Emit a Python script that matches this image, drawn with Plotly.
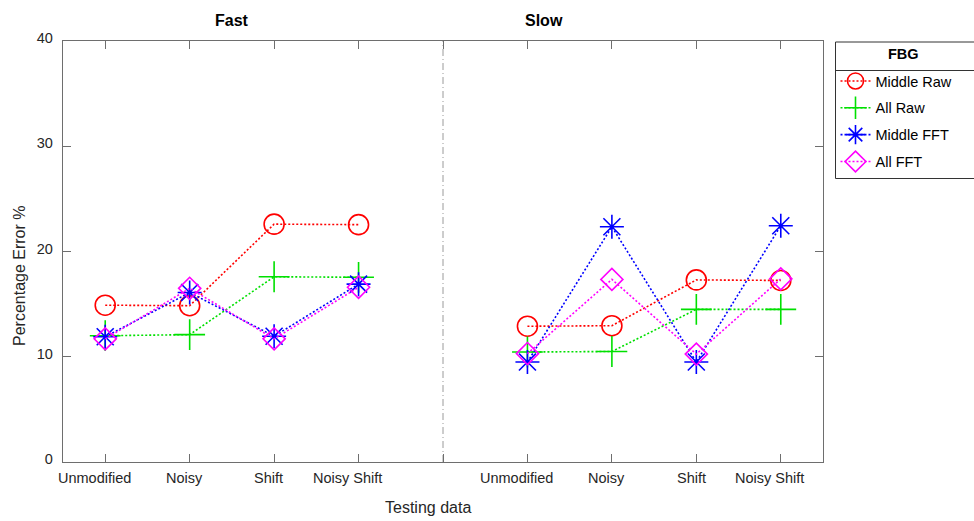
import plotly.graph_objects as go

# Testing conditions and the two speed groups
categories = ["Unmodified", "Noisy", "Shift", "Noisy Shift"]
groups = ["Fast", "Slow"]

# Percentage error per condition (Fast group, then Slow group)
middle_raw_fast = [14.9, 14.85, 22.6, 22.55]
middle_raw_slow = [12.9, 12.95, 17.3, 17.25]
all_raw_fast = [12.0, 12.1, 17.6, 17.55]
all_raw_slow = [10.45, 10.5, 14.5, 14.5]
middle_fft_fast = [11.9, 16.1, 11.95, 16.9]
middle_fft_slow = [9.5, 22.35, 9.5, 22.45]
all_fft_fast = [11.7, 16.5, 11.7, 16.6]
all_fft_slow = [10.3, 17.35, 10.25, 17.4]

y_ticks = [0, 10, 20, 30, 40]

FONT = "Liberation Sans, Arial, sans-serif"
TXT = "#262626"
AX = "#6e6e6e"

n = len(categories)
# x positions: Fast at 1..n, a gap slot, Slow at n+2..2n+1
fast_x = [i + 1 for i in range(n)]
slow_x = [n + 2 + i for i in range(n)]
gap_x = n + 1
all_x = fast_x + [gap_x] + slow_x

series = [
    ("Middle Raw", middle_raw_fast, middle_raw_slow, "#ff0000", "circle-open", 20),
    ("All Raw", all_raw_fast, all_raw_slow, "#00e000", "cross-thin-open", 22),
    ("Middle FFT", middle_fft_fast, middle_fft_slow, "#0000ff", "asterisk-open", 20),
    ("All FFT", all_fft_fast, all_fft_slow, "#ff00ff", "diamond-open", 17),
]

fig = go.Figure()
for name, fast, slow, color, symbol, size in series:
    fig.add_trace(go.Scatter(
        x=all_x,
        y=list(fast) + [None] + list(slow),
        mode="lines+markers",
        name=name,
        legendgroup=name,
        connectgaps=False,
        line=dict(color=color, width=1.6, dash="2px,2px"),
        marker=dict(symbol=symbol, size=size, color=color,
                    line=dict(color=color, width=1.6)),
    ))

# Vertical dash-dot separator between the two groups
fig.add_shape(type="line", xref="x", yref="paper", x0=gap_x, x1=gap_x, y0=0, y1=1,
              line=dict(color="#9a9a9a", width=1, dash="7px,3px,1px,3px"), layer="below")

annotations = []
# Category labels under each tick
for xs in (fast_x, slow_x):
    for xv, lab in zip(xs, categories):
        annotations.append(dict(
            x=xv, y=0, xref="x", yref="paper", text=lab, showarrow=False,
            xanchor="center", yanchor="middle", yshift=-15.5,
            xshift=-1.05 * len(lab),
            font=dict(family=FONT, size=14.5, color=TXT)))

# Group titles
annotations.append(dict(x=2.5, y=1, xref="x", yref="paper", text="<b>Fast</b>",
                        showarrow=False, yanchor="middle", yshift=21,
                        font=dict(family=FONT, size=16, color="#000000")))
annotations.append(dict(x=6.2, y=1, xref="x", yref="paper", text="<b>Slow</b>",
                        showarrow=False, yanchor="middle", yshift=21,
                        font=dict(family=FONT, size=16, color="#000000")))
# Axis titles
annotations.append(dict(x=4.82, y=0, xref="x", yref="paper", text="Testing data",
                        showarrow=False, yanchor="middle", yshift=-45,
                        font=dict(family=FONT, size=16, color=TXT)))
annotations.append(dict(x=0, y=(462 - 276) / 421, xref="paper", yref="paper",
                        text="Percentage Error %",
                        showarrow=False, textangle=-90, xanchor="center", yanchor="middle",
                        xshift=-44, font=dict(family=FONT, size=16, color=TXT)))
# Legend header
annotations.append(dict(x=(903 - 63) / 760, y=(462 - 54) / 421, xref="paper", yref="paper",
                        text="<b>FBG</b>", showarrow=False, xanchor="center", yanchor="middle",
                        font=dict(family=FONT, size=14.5, color="#000000")))

# Legend frame and header separator
fig.add_shape(type="rect", xref="paper", yref="paper",
              x0=(835.5 - 63) / 760, x1=(990 - 63) / 760,
              y0=(462 - 178.5) / 421, y1=(462 - 42) / 421,
              line=dict(color="#333333", width=1), fillcolor="rgba(0,0,0,0)")
fig.add_shape(type="line", xref="paper", yref="paper",
              x0=(835.5 - 63) / 760, x1=(990 - 63) / 760,
              y0=(462 - 70.5) / 421, y1=(462 - 70.5) / 421,
              line=dict(color="#333333", width=1))

axis_common = dict(
    showline=True, linecolor=AX, linewidth=1.3, mirror="allticks",
    ticks="inside", ticklen=8, tickcolor=AX, tickwidth=1,
    showgrid=False, zeroline=False,
)

fig.update_layout(
    width=974, height=521, autosize=False,
    margin=dict(l=63, r=151, t=41, b=59),
    plot_bgcolor="#ffffff", paper_bgcolor="#ffffff",
    font=dict(family=FONT, size=14.5, color=TXT),
    xaxis=dict(range=[0.5, 2 * n + 1.5], tickvals=fast_x + [gap_x] + slow_x,
               showticklabels=False, **axis_common),
    yaxis=dict(range=[0, 40], tickvals=y_ticks, ticklabelstandoff=6, ticklabelshift=-3,
               tickfont=dict(family=FONT, size=14.5, color=TXT), **axis_common),
    showlegend=True,
    legend=dict(
        x=(835.5 - 63) / 760, y=(462 - 65) / 421, xanchor="left", yanchor="top",
        bgcolor="rgba(0,0,0,0)", borderwidth=0,
        traceorder="grouped", tracegroupgap=5, itemsizing="trace",
        font=dict(family=FONT, size=14.5, color="#000000"),
    ),
    annotations=annotations,
)

fig.write_html("out.html")
